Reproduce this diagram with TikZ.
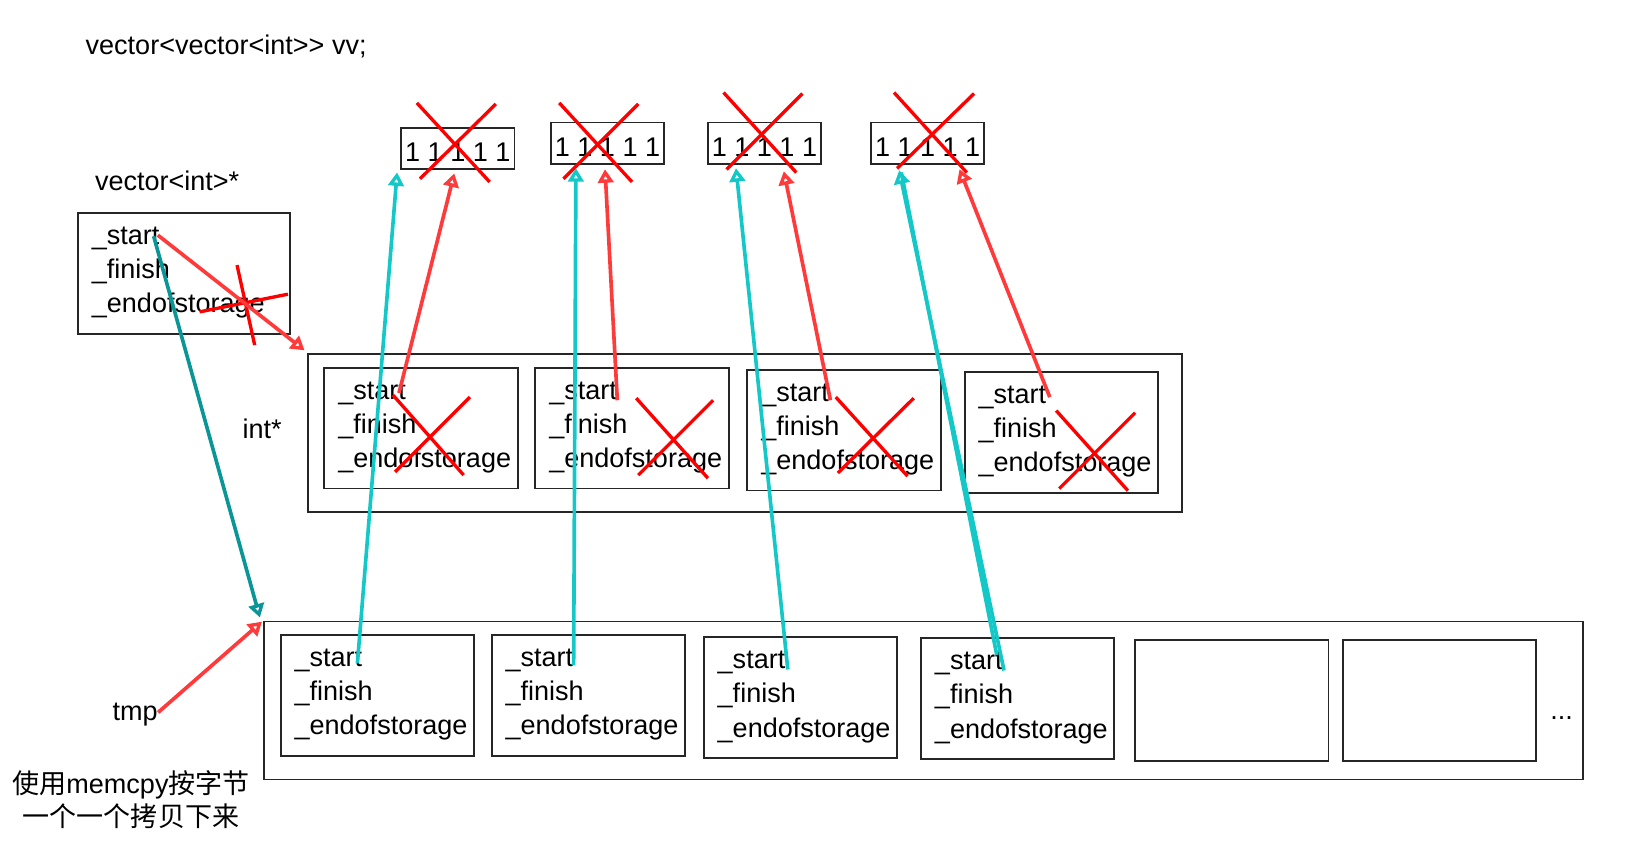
\documentclass[tikz,border=0pt]{standalone}
\usepackage{fontspec}
\setmainfont{Liberation Sans}
\newfontfamily\cjk{Noto Sans CJK SC}
\usetikzlibrary{arrows.meta,calc}
\definecolor{arrred}{RGB}{255,58,58}
\definecolor{xred}{RGB}{255,0,0}
\definecolor{cyanln}{RGB}{20,200,200}
\definecolor{tealln}{RGB}{10,150,150}
\newcommand\fields[3]{%
  \node[lbl] (#1s) at (#2+14,#3+31) {\_start};
  \node[lbl] (#1f) at (#2+14,#3+64) {\_finish};
  \node[lbl] (#1e) at (#2+14,#3+97) {\_endofstorage};
}
\newcommand\ones{\raisebox{-6.2pt}[0pt][0pt]{1 1 1 1 1}}
\begin{document}
\begin{tikzpicture}[x=0.5pt,y=-0.5pt,
  font=\fontsize{13}{15.6}\selectfont,
  box/.style={draw=black!85, line width=0.9pt, inner sep=0pt, anchor=north west},
  cell/.style={box, minimum width=93pt, minimum height=58pt},
  arr/.style={line width=1.75pt, -{Triangle[open,length=6.5pt,width=7.5pt]}},
  lbl/.style={inner sep=0pt, anchor=base west},
  crossln/.style={draw=xred, line width=1.6pt}]
\useasboundingbox (0,0) rectangle (1568,818);

% titles
\node[lbl] (title) at (82,52) {vector<vector<int>{}> vv;};
\node[lbl] (vptr) at (91,183) {vector<int>*};
\node[lbl] (intp) at (233,422) {int*};
\node[lbl] (tmp) at (108,693) {tmp};
\node[lbl] (dots) at (1491,692) {...};
\node[inner sep=0pt, anchor=base] (cn1) at (126,763) {{\cjk 使用}memcpy{\cjk 按字节}};
\node[inner sep=0pt, anchor=base] (cn2) at (126,795) {{\cjk 一个一个拷贝下来}};

% vector<int>* box
\node[box, minimum width=102pt, minimum height=58pt] (A) at (74,204) {};
\fields{A}{74}{204}

% arrays
\node[box, minimum width=54.5pt, minimum height=20pt] (T1) at (385,122) {\ones};
\node[box, minimum width=54.5pt, minimum height=20pt] (T2) at (529,117) {\ones};
\node[box, minimum width=54.5pt, minimum height=20pt] (T3) at (680,117) {\ones};
\node[box, minimum width=54.5pt, minimum height=20pt] (T4) at (837,117) {\ones};

% middle container
\node[box, minimum width=420.5pt, minimum height=76pt] (Mid) at (295,340) {};
\node[cell] (M1) at (311,353) {};
\node[cell] (M2) at (514,353) {};
\node[cell] (M3) at (718,355) {};
\node[cell] (M4) at (927,357) {};
\fields{M1}{311}{353}
\fields{M2}{514}{353}
\fields{M3}{718}{355}
\fields{M4}{927}{357}

% bottom container
\node[box, minimum width=634.5pt, minimum height=76pt] (Bot) at (253,597) {};
\node[cell] (B1) at (269,610) {};
\node[cell] (B2) at (472,610) {};
\node[cell] (B3) at (676,612) {};
\node[cell] (B4) at (885,613) {};
\node[cell] (B5) at (1091,615) {};
\node[cell] (B6) at (1291,615) {};
\fields{B1}{269}{610}
\fields{B2}{472}{610}
\fields{B3}{676}{612}
\fields{B4}{885}{613}

% crosses
\draw[crossln] (228,255) -- (245,332);
\draw[crossln] (192,300) -- (277,283);
\draw[crossln] (401,99) -- (471,175);
\draw[crossln] (477,100) -- (404,172);
\draw[crossln] (538,99) -- (608,175);
\draw[crossln] (614,100) -- (542,172);
\draw[crossln] (696,89) -- (766,166);
\draw[crossln] (772,90) -- (699,163);
\draw[crossln] (860,89) -- (930,166);
\draw[crossln] (937,90) -- (863,162);
\draw[crossln] (378,380) -- (446,457);
\draw[crossln] (452,382) -- (380,454);
\draw[crossln] (612,383) -- (681,460);
\draw[crossln] (686,385) -- (614,457);
\draw[crossln] (804,382) -- (873,458);
\draw[crossln] (879,383) -- (806,455);
\draw[crossln] (1016,395) -- (1085,472);
\draw[crossln] (1092,397) -- (1019,470);

% arrows from vector<int>* and tmp
\draw[arr, draw=arrred] ($(As.east)+(-2,-3)$) -- ($(Mid.north west)+(-2,-3)$);
\draw[arr, draw=tealln] ($(As.east)+(-6,-2)$) -- ($(Bot.north west)+(-3,-3)$);
\draw[arr, draw=arrred] ($(tmp.east)+(0,-2)$) -- ($(Bot.north west)+(-1,1)$);

% red arrows from middle cells to arrays
\draw[arr, draw=arrred] ($(M1s.base east)+(-7,-6)$) -- ($(T1.south west)+(52,3)$);
\draw[arr, draw=arrred] ($(M2s.base east)+(0,1)$) -- ($(T2.south west)+(53,4)$);
\draw[arr, draw=arrred] ($(M3s.base east)+(1,-1)$) -- ($(T3.south west)+(74,6)$);
\draw[arr, draw=arrred] ($(M4s.base east)+(3,-6)$) -- ($(T4.south west)+(86,4)$);

% cyan arrows from bottom cells to arrays
\draw[arr, draw=cyanln] ($(B1s.base east)+(-5,-3)$) -- ($(T1.south west)+(-3,2)$);
\draw[arr, draw=cyanln] ($(B2s.base east)+(0,-1)$) -- ($(T2.south west)+(25,3)$);
\draw[arr, draw=cyanln] ($(B3s.base east)+(2,1)$) -- ($(T3.south west)+(28,3)$);
\draw[arr, draw=cyanln] ($(B4s.base east)+(1,1)$) -- ($(T4.south west)+(28,5)$);
\draw[line width=1.75pt, draw=cyanln] ($(B4s.base east)+(-6,-14)$) -- ($(T4.south west)+(30,7)$);
\end{tikzpicture}
\end{document}
